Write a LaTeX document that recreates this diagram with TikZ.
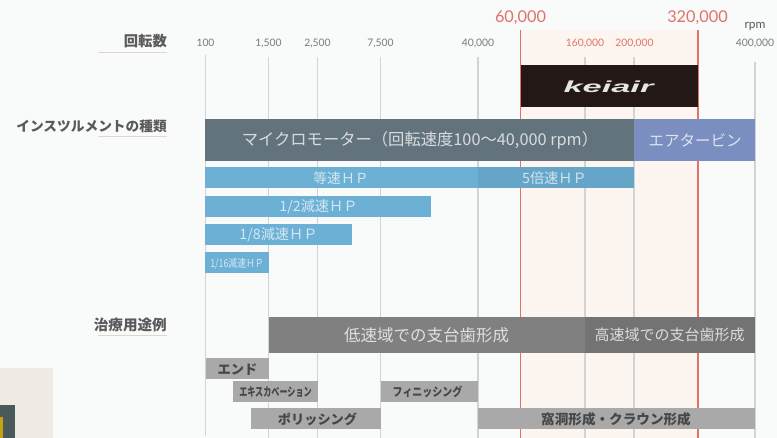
\documentclass[tikz,border=0pt]{standalone}
\usepackage{fontspec}
\setmainfont{Noto Sans CJK JP}
\newfontfamily\latinf{Lato}
\newfontfamily\logof{Liberation Sans}
\definecolor{bgc}{HTML}{F9FAFA}
\definecolor{pinkc}{HTML}{FDF5F0}
\definecolor{redc}{HTML}{E2716A}
\definecolor{gridc}{HTML}{D2D3D6}
\definecolor{motorc}{HTML}{63737D}
\definecolor{airc}{HTML}{7A8FBF}
\definecolor{hpc}{HTML}{6DB0D5}
\definecolor{hpd}{HTML}{65A5C8}
\definecolor{lowc}{HTML}{808080}
\definecolor{highc}{HTML}{737373}
\definecolor{usec}{HTML}{A9A9A9}
\definecolor{headc}{HTML}{5A5A5A}
\definecolor{rulec}{HTML}{E3D6C6}
\definecolor{tickc}{HTML}{7A7A7A}
\definecolor{logoc}{HTML}{231815}
\definecolor{cornerc}{HTML}{EFEBE4}
\definecolor{cornerd}{HTML}{4A5A5A}
\definecolor{cornery}{HTML}{C9A010}
\tikzset{
  x=1pt,y=-1pt,
  gridline/.style={draw=gridc,line width=1.5pt},
  redline/.style={draw=redc,line width=1.5pt},
  rulel/.style={draw=rulec,line width=1pt},
  head/.style={anchor=east,inner sep=0pt,text=headc,font=\fontsize{13.7}{15}\selectfont\bfseries},
  tick/.style={inner sep=0pt,text=tickc,font=\latinf\fontsize{10.3}{12}\selectfont},
  redtick/.style={inner sep=0pt,text=redc,font=\latinf\fontsize{10.3}{12}\selectfont},
  bigtick/.style={inner sep=0pt,text=redc,font=\latinf\fontsize{16.3}{18}\selectfont},
  barlabel/.style={inner sep=0pt,text=white,text opacity=.75},
  hplabel/.style={inner sep=0pt,text=white,text opacity=.7,font=\fontsize{13.8}{16}\selectfont},
  uselabel/.style={inner sep=0pt,text=black!72,font=\fontsize{13.2}{15}\selectfont\bfseries},
}
\begin{document}
\begin{tikzpicture}
\useasboundingbox (0,0) rectangle (777,438);
\fill[bgc] (0,0) rectangle (777,438);
% bottom-left corner
\fill[cornerc] (0,368) rectangle (53,438);
\fill[cornerd] (0,405) rectangle (15,438);
\fill[cornery] (0,417) rectangle (3,438);
% band
\fill[pinkc] (520.5,30) rectangle (698,438);
% grid
\draw[gridline] (205.5,55) -- (205.5,436);
\draw[gridline] (268.5,57) -- (268.5,438);
\draw[gridline] (317.5,57) -- (317.5,438);
\draw[gridline] (380.5,57) -- (380.5,438);
\draw[gridline] (478,57) -- (478,438);
\draw[gridline] (585,57) -- (585,438);
\draw[gridline] (634,57) -- (634,438);
\draw[gridline] (755,62) -- (755,438);
\draw[redline] (520.5,30) -- (520.5,438);
\draw[redline] (698,30) -- (698,438);
% headings
\node[head,font=\fontsize{14.3}{16}\selectfont\bfseries] (hrot) at (167,41.5) {回転数};
\node[head] (hins) at (167,126.5) {インスツルメントの種類};
\node[head,font=\fontsize{14.6}{16}\selectfont\bfseries] (huse) at (167,325) {治療用途例};
\draw[rulel] (98,53) -- (167,53);
\draw[rulel] (98,137) -- (167,137);
\draw[rulel] (98,336) -- (167,336);
% ticks
\node[tick] (t100) at (205.5,43) {100};
\node[tick] (t1500) at (268.5,43) {1,500};
\node[tick] (t2500) at (317.5,43) {2,500};
\node[tick] (t7500) at (380.5,43) {7,500};
\node[tick] (t40k) at (478,43) {40,000};
\node[redtick] (t160k) at (585,43) {160,000};
\node[redtick] (t200k) at (634.5,43) {200,000};
\node[tick] (t400k) at (755,43) {400,000};
\node[inner sep=0pt,text=headc,font=\latinf\fontsize{12}{14}\selectfont] (trpm) at (755,26.5) {rpm};
\node[bigtick] (t60k) at (520.5,17.5) {60,000};
\node[bigtick] (t320k) at (697.5,17.5) {320,000};
% logo
\fill[logoc] (520.5,65) rectangle (698,107);
\node[inner sep=0pt,text=white!90!black,xscale=2.15,font=\logof\fontsize{16}{18}\selectfont\bfseries\itshape] (logo) at (608.5,87) {keiair};
% instruments
\fill[motorc] (205,119) rectangle (634,161);
\fill[airc] (634,119) rectangle (755,161);
\fill[hpc] (205,167) rectangle (478,188);
\fill[hpd] (478,167) rectangle (634,188);
\fill[hpc] (205,196) rectangle (431,217);
\fill[hpc] (205,224) rectangle (352,245);
\fill[hpc] (205,252) rectangle (269,273);
\node[barlabel,font=\fontsize{16.3}{18}\selectfont] (lmotor) at (420,140) {マイクロモーター（回転速度100～40,000 rpm）};
\node[barlabel,font=\fontsize{15.5}{18}\selectfont] (lair) at (695,140) {エアタービン};
\node[hplabel] (l1) at (341,178) {等速ＨＰ};
\node[hplabel,font=\fontsize{14.2}{16}\selectfont] (l5) at (554.5,178) {5倍速ＨＰ};
\node[hplabel,font=\fontsize{14.2}{16}\selectfont] (l2) at (318.5,207) {1/2減速ＨＰ};
\node[hplabel,font=\fontsize{14.2}{16}\selectfont] (l8) at (278.5,235) {1/8減速ＨＰ};
\node[hplabel,xscale=.8,font=\fontsize{11}{13}\selectfont] (l16) at (237,263.5) {1/16減速ＨＰ};
% uses
\fill[lowc] (268.5,317) rectangle (585,353);
\fill[highc] (585,317) rectangle (755,353);
\node[barlabel,font=\fontsize{16.5}{18}\selectfont] (llow) at (426.5,335) {低速域での支台歯形成};
\node[barlabel,font=\fontsize{15}{18}\selectfont] (lhigh) at (669.5,335) {高速域での支台歯形成};
\fill[usec] (205.5,358) rectangle (268.5,379);
\fill[usec] (233,381) rectangle (318,402);
\fill[usec] (381,381) rectangle (478,402);
\fill[usec] (251,408) rectangle (381,429);
\fill[usec] (478,408) rectangle (755,429);
\node[uselabel] (uend) at (237.5,369.5) {エンド};
\node[uselabel,xscale=.675,font=\fontsize{12}{14}\selectfont\bfseries] (uexc) at (275.5,392) {エキスカベーション};
\node[uselabel,xscale=.83,font=\fontsize{12}{14}\selectfont\bfseries] (ufin) at (427.5,392) {フィニッシング};
\node[uselabel] (upol) at (317.5,419) {ポリッシング};
\node[uselabel,font=\fontsize{13.6}{15}\selectfont\bfseries] (ucav) at (616,419) {窩洞形成・クラウン形成};
\end{tikzpicture}
\end{document}
